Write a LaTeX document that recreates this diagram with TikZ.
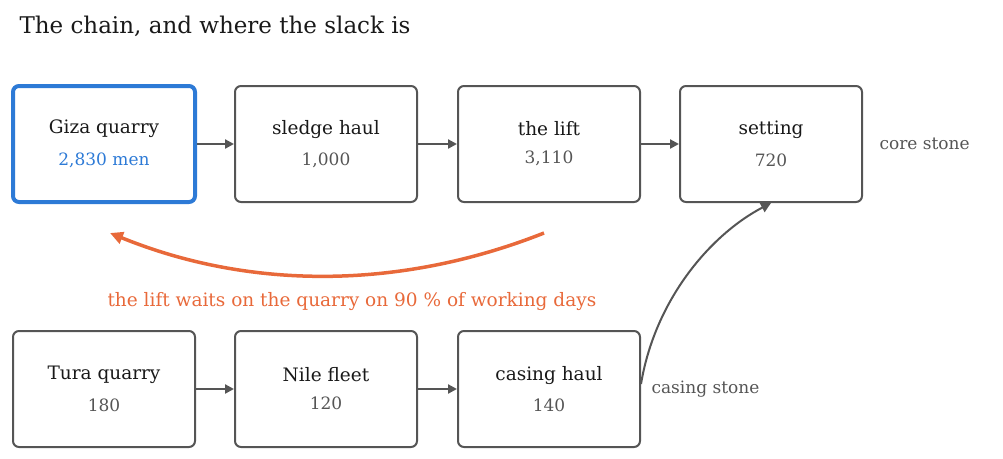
\documentclass[tikz,border=0pt]{standalone}
\usepackage{fontspec}
\setmainfont{DejaVu Serif}
\usetikzlibrary{positioning,arrows.meta}
\definecolor{edge}{HTML}{555555}
\definecolor{hot}{HTML}{E8693A}
\definecolor{sel}{HTML}{2D7AD6}
\tikzset{
  stage/.style={draw=edge,line width=2pt,rounded corners=6pt,minimum width=182pt,minimum height=116pt,inner sep=0pt},
  flow/.style={-{Triangle[length=9pt,width=9pt]},draw=edge,line width=2.2pt},
  note/.style={text=edge,font=\fontsize{17}{20}\selectfont,anchor=west},
}
\newcommand{\stagetext}[2]{{\fontsize{18.5}{22}\selectfont\color{black!90}#1}\\[14pt]{\fontsize{17}{20}\selectfont #2}}
\begin{document}
\begin{tikzpicture}[x=1pt,y=-1pt]
  \useasboundingbox (0,0) rectangle (1003,458);
  \node[anchor=base west,font=\fontsize{23}{26}\selectfont,text=black!90] (title) at (16,33) {The chain, and where the slack is};

  % top row
  \node[stage,draw=sel,line width=4pt,align=center] (giza) at (104,144) {\stagetext{Giza quarry}{\color{sel}2,830 men}};
  \node[stage,align=center,text=edge] (sled) at (326,144) {\stagetext{sledge haul}{1,000}};
  \node[stage,align=center,text=edge] (lift) at (549,144) {\stagetext{the lift}{3,110}};
  \node[stage,align=center,text=edge] (set) at (771,144) {\stagetext{setting}{720}};
  \node[note] (core) at (876,144) {core stone};

  % bottom row
  \node[stage,align=center,text=edge] (tura) at (104,389) {\stagetext{Tura quarry}{180}};
  \node[stage,align=center,text=edge] (fleet) at (326,389) {\stagetext{Nile fleet}{120}};
  \node[stage,align=center,text=edge] (cas) at (549,389) {\stagetext{casing haul}{140}};
  \node[note] (casing) at (648,389) {casing stone};

  \draw[flow] (giza) -- (sled);
  \draw[flow] (sled) -- (lift);
  \draw[flow] (lift) -- (set);
  \draw[flow] (tura) -- (fleet);
  \draw[flow] (fleet) -- (cas);

  % slack
  \coordinate (wait) at (544,233);
  \coordinate (back) at (110,233);
  \draw[-{Triangle[length=13pt,width=12pt]},hot,line width=3.5pt] (wait) .. controls (400,290) and (250,290) .. (back);
  \node[anchor=base west,text=hot,font=\fontsize{18.5}{22}\selectfont] (slack) at (104,306) {the lift waits on the quarry on 90 \% of working days};

  \draw[-{Triangle[length=10pt,width=10pt]},edge,line width=2pt] (cas.east) ++(0,-5) .. controls (655,300) and (710,235) .. (set.south);
\end{tikzpicture}
\end{document}
